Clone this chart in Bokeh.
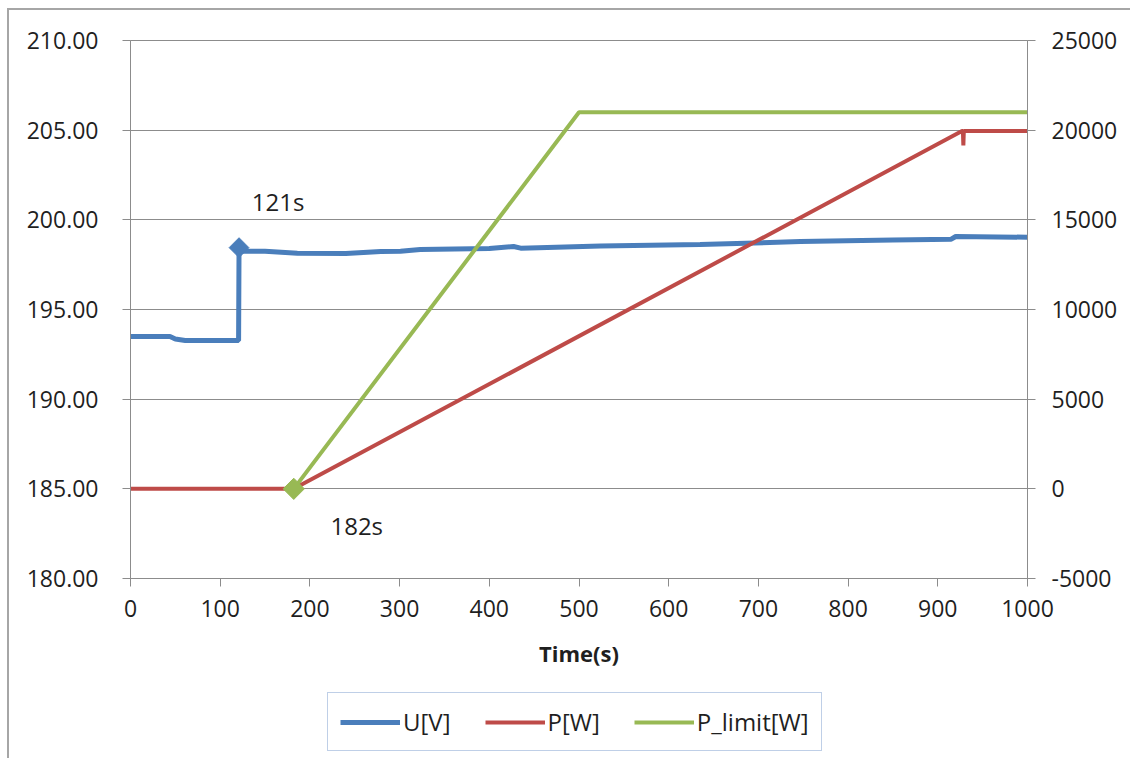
import math
from bokeh.plotting import figure
from bokeh.layouts import column
from bokeh.models import (Range1d, LinearAxis, FixedTicker, PrintfTickFormatter,
                          Legend, LegendItem, Label)
from bokeh.embed import file_html
from bokeh.resources import INLINE

# ---------------- data ----------------
u_time = [0, 44, 50, 61, 120.5, 121, 123, 150, 186, 240, 279, 301, 323, 400,
          427, 435, 524, 635, 747, 850, 915, 920, 1000]
u_volt = [193.49, 193.49, 193.35, 193.27, 193.27, 198.45, 198.25, 198.25, 198.14,
          198.12, 198.23, 198.25, 198.34, 198.40, 198.51, 198.42, 198.54, 198.62,
          198.79, 198.88, 198.92, 199.07, 199.03]

p_time = [0, 182, 927, 928, 928.5, 929, 1000]
p_watt = [0, 0, 19950, 19950, 19150, 19950, 19950]

lim_time = [182, 500, 1000]
lim_watt = [0, 21000, 21000]

u_marker_t = [121]
u_marker_v = [198.45]
lim_marker_t = [182]
lim_marker_w = [0]

x_ticks = [0, 100, 200, 300, 400, 500, 600, 700, 800, 900, 1000]
u_ticks = [180, 185, 190, 195, 200, 205, 210]
p_ticks = [-5000, 0, 5000, 10000, 15000, 20000, 25000]

series_names = ["U[V]", "P[W]", "P_limit[W]"]
annot_texts = ["121s", "182s"]

# ---------------- style ----------------
FONT = "Open Sans"
TXT = "#1F1F1F"
GRAY = "#8C8C8C"
BLUE = "#4A7EBB"
RED = "#BE4B48"
GREEN = "#98B954"
SERIES_COLORS = [BLUE, RED, GREEN]
SERIES_WIDTHS = [5, 4, 4]

p = figure(frame_width=897, frame_height=538, output_backend="svg", toolbar_location=None,
           x_range=Range1d(0, 1000), y_range=Range1d(180, 210),
           min_border_left=121, min_border_right=103, min_border_top=30,
           min_border_bottom=100)
p.extra_y_ranges = {"p": Range1d(-5000, 25000)}
p.outline_line_color = GRAY
p.outline_line_width = 1
p.background_fill_color = "white"
p.border_fill_color = "white"

p.xgrid.visible = False
p.ygrid.grid_line_color = GRAY
p.ygrid.grid_line_width = 1

# x axis
xa = p.xaxis[0]
xa.ticker = FixedTicker(ticks=x_ticks)
xa.axis_label = "Time(s)"
xa.axis_label_text_font = FONT
xa.axis_label_text_font_style = "bold"
xa.axis_label_text_font_size = "22px"
xa.axis_label_text_color = TXT
xa.axis_label_standoff = 18

# left axis
ya = p.yaxis[0]
ya.ticker = FixedTicker(ticks=u_ticks)
ya.formatter = PrintfTickFormatter(format="%.2f")
ya.major_label_standoff = 24

# right axis
ra = LinearAxis(y_range_name="p", ticker=FixedTicker(ticks=p_ticks),
                formatter=PrintfTickFormatter(format="%d"))
ra.major_label_standoff = 16
p.add_layout(ra, "right")

for ax in [xa, ya, ra]:
    ax.axis_line_color = GRAY
    ax.major_tick_line_color = GRAY
    ax.major_tick_out = 8
    ax.major_tick_in = 0
    ax.minor_tick_line_color = None
    ax.major_label_text_font = FONT
    ax.major_label_text_font_size = "23px"
    ax.major_label_text_color = TXT
xa.major_label_standoff = 13

# series
rb = p.line(u_time, u_volt, line_color=BLUE, line_width=5)
rr = p.line(p_time, p_watt, line_color=RED, line_width=4, y_range_name="p")
rg = p.line(lim_time, lim_watt, line_color=GREEN, line_width=4, y_range_name="p")

p.scatter(u_marker_t, u_marker_v, marker="square", angle=math.pi / 4, size=14,
          fill_color=BLUE, line_color=BLUE)
p.scatter(lim_marker_t, lim_marker_w, marker="square", angle=math.pi / 4, size=15,
          fill_color=GREEN, line_color=GREEN, y_range_name="p")

p.add_layout(Label(x=u_marker_t[0], y=u_marker_v[0], x_offset=39, y_offset=46,
                   text=annot_texts[0], text_align="center", text_baseline="middle",
                   text_font=FONT, text_font_size="24px", text_color=TXT))
p.add_layout(Label(x=lim_marker_t[0], y=lim_marker_w[0], y_range_name="p",
                   x_offset=63, y_offset=-37,
                   text=annot_texts[1], text_align="center", text_baseline="middle",
                   text_font=FONT, text_font_size="24px", text_color=TXT))

# ---------------- legend strip below the chart ----------------
p2 = figure(width=1121, height=80, output_backend="svg", toolbar_location=None,
            x_range=Range1d(0, 1), y_range=Range1d(0, 1),
            x_axis_location=None, y_axis_location=None,
            min_border_left=0, min_border_right=0, min_border_top=0, min_border_bottom=0)
p2.grid.visible = False
p2.outline_line_color = None
p2.border_fill_color = "white"
# legend-only renderers: their points sit outside the strip's visible range
legend_renderers = [p2.line([-2, -1], [-2, -1], line_color=c, line_width=w)
                    for c, w in zip(SERIES_COLORS, SERIES_WIDTHS)]

legend = Legend(items=[LegendItem(label=n, renderers=[r])
                       for n, r in zip(series_names, legend_renderers)],
                orientation="horizontal", location=(197, 7),
                border_line_color="#7F9FCF", border_line_width=1,
                glyph_width=60, glyph_height=26, label_height=26,
                label_standoff=3, spacing=34, padding=12, margin=0,
                label_text_font=FONT, label_text_font_size="24px",
                label_text_color=TXT, background_fill_alpha=1)
p2.add_layout(legend, "center")

layout = column(p, p2, spacing=0,
                styles={"border-left": "2px solid #A6A6A6", "border-top": "2px solid #A6A6A6",
                        "margin-left": "7px", "margin-top": "8px"})
open("out.html", "w").write(file_html(layout, INLINE))
